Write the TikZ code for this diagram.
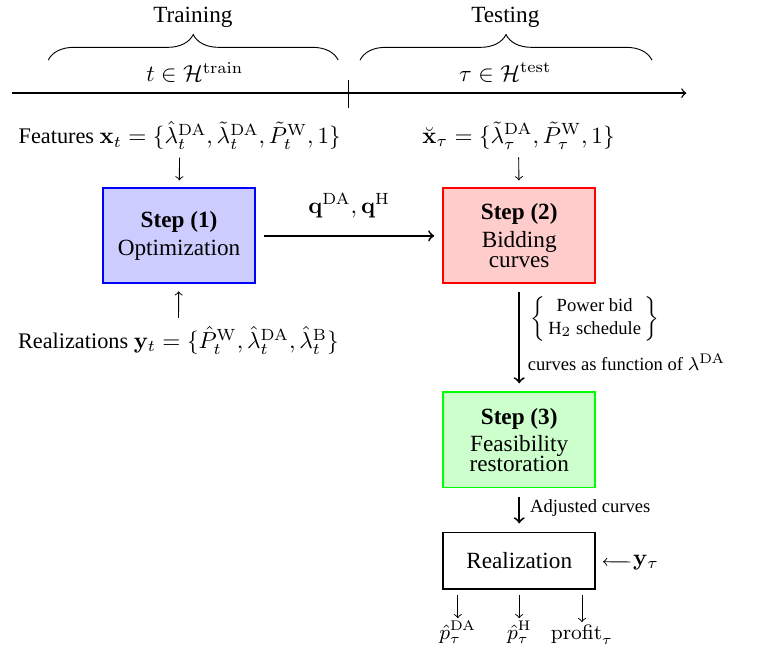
\documentclass[tikz,border=0pt]{standalone}
\usepackage{amsmath,amssymb}
\usepackage[no-math]{fontspec}
\setmainfont{Liberation Serif}
\usetikzlibrary{decorations.pathreplacing}

\begin{document}
\begin{tikzpicture}[
  stepbox/.style={draw, thick, minimum width=2.3cm, minimum height=1.44cm, align=center},
  flow/.style={->, thick, shorten <=3.5pt, shorten >=3.5pt},
  thinflow/.style={->, shorten >=3pt},
  timebrace/.style={decorate, decoration={brace, amplitude=11pt}},
  datalbl/.style={font=\fontsize{9.6pt}{11.5pt}\selectfont}]
\useasboundingbox (0,0) rectangle (11.49,-9.84);
% time line
\draw [semithick, ->] (0.18,-1.41)--(10.39,-1.41);
\draw [semithick] (5.28,-1.21)--(5.28,-1.63);
\draw [timebrace] (0.73,-0.91)--(5.12,-0.91);
\draw [timebrace] (5.45,-0.91)--(9.87,-0.91);
\node (train) at (2.92,-0.26) {Training};
\node (test) at (7.65,-0.26) {Testing};
\node (htrain) at (2.95,-1.1) {$t\in\mathcal{H}^{\mathrm{train}}$};
\node (htest) at (7.65,-1.1) {$\tau\in\mathcal{H}^{\mathrm{test}}$};
% training side
\node[datalbl] (feat) at (2.72,-2.05) {Features $\mathbf{x}_t=\{\hat{\lambda}^{\mathrm{DA}}_t,\tilde{\lambda}^{\mathrm{DA}}_t,\tilde{P}^{\mathrm{W}}_t,1\}$};
\node[stepbox, fill=blue!20, draw=blue] (s1) at (2.71,-3.57) {\textbf{Step (1)}\\Optimization};
\node[datalbl] (real) at (2.70,-5.15) {Realizations $\mathbf{y}_t=\{\hat{P}^{\mathrm{W}}_t,\hat{\lambda}^{\mathrm{DA}}_t,\hat{\lambda}^{\mathrm{B}}_t\}$};
\draw [thinflow] (feat)--(s1);
\draw [thinflow] (real)--(s1);
% testing side
\node[datalbl] (xt) at (7.85,-2.05) {$\breve{\mathbf{x}}_\tau=\{\tilde{\lambda}^{\mathrm{DA}}_\tau,\tilde{P}^{\mathrm{W}}_\tau,1\}$};
\node[stepbox, fill=red!20, draw=red] (s2) at (7.86,-3.57) {\textbf{Step (2)}\\Bidding\\[-3.5pt]curves};
\node[stepbox, fill=green!20, draw=green] (s3) at (7.86,-6.66) {\textbf{Step (3)}\\Feasibility\\[-3.5pt]restoration};
\node[stepbox, minimum height=0.86cm, fill=white] (res) at (7.86,-8.49) {Realization};
\node[inner sep=1pt] (ytau) at (9.78,-8.51) {$\mathbf{y}_\tau$};
\draw [thinflow] (xt)--(s2);
\draw [flow] (s1)--(s2) node [midway, above=4pt] {$\mathbf{q}^{\mathrm{DA}},\mathbf{q}^{\mathrm{H}}$};
\draw [flow] (s2)--(s3)
  node [pos=0.32, right=1pt] {\footnotesize $\left\{\begin{array}{@{\,}c@{\,}}\text{Power bid}\\ \text{H}_2\text{ schedule}\end{array}\right\}$}
  node [pos=0.73, right=0pt] {\footnotesize curves as function of $\lambda^{\mathrm{DA}}$};
\draw [flow] (s3)--(res) node [pos=0.45, right=1pt] {\footnotesize Adjusted curves};
\draw [thinflow] (ytau)--(res);
% outputs
\node[anchor=base, inner sep=1pt] (pda) at (6.93,-9.68) {\small $\hat{p}^{\mathrm{DA}}_\tau$};
\node[anchor=base, inner sep=1pt] (ph) at (7.86,-9.68) {\small $\hat{p}^{\mathrm{H}}_\tau$};
\node[anchor=base, inner sep=1pt] (prof) at (8.81,-9.68) {\small $\mathrm{profit}_\tau$};
\foreach \o in {pda,ph,prof}
  \draw [->, shorten <=2pt] (res.south -| \o.north)--(\o.north);
\end{tikzpicture}
\end{document}
